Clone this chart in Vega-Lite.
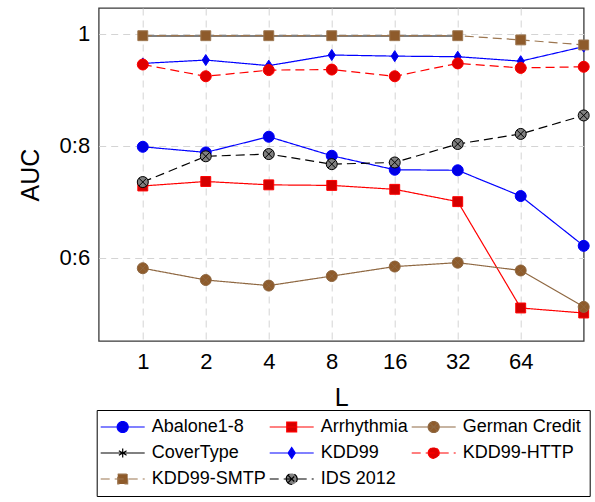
{
  "$schema": "https://vega.github.io/schema/vega-lite/v6.json",
  "width": 485,
  "height": 333,
  "autosize": {"type": "none"},
  "padding": {"left": 98.7, "top": 8, "right": 11.3, "bottom": 161},
  "background": "white",
  "config": {
    "font": "Liberation Sans",
    "view": {"stroke": "#3a3a3a", "strokeWidth": 1.3},
    "axis": {
      "labelFont": "Liberation Sans",
      "titleFont": "Liberation Sans",
      "labelColor": "black",
      "titleColor": "black",
      "titleFontWeight": "normal",
      "domain": false,
      "gridColor": "#d4d4d4",
      "gridDash": [7, 5],
      "gridWidth": 1,
      "ticks": false
    }
  },
  "data": {
    "values": [
      {"L": 1, "series": "Abalone1-8", "AUC": 0.798},
      {"L": 2, "series": "Abalone1-8", "AUC": 0.788},
      {"L": 4, "series": "Abalone1-8", "AUC": 0.816},
      {"L": 8, "series": "Abalone1-8", "AUC": 0.782},
      {"L": 16, "series": "Abalone1-8", "AUC": 0.757},
      {"L": 32, "series": "Abalone1-8", "AUC": 0.756},
      {"L": 64, "series": "Abalone1-8", "AUC": 0.710},
      {"L": 128, "series": "Abalone1-8", "AUC": 0.621},
      {"L": 1, "series": "Arrhythmia", "AUC": 0.728},
      {"L": 2, "series": "Arrhythmia", "AUC": 0.736},
      {"L": 4, "series": "Arrhythmia", "AUC": 0.730},
      {"L": 8, "series": "Arrhythmia", "AUC": 0.729},
      {"L": 16, "series": "Arrhythmia", "AUC": 0.722},
      {"L": 32, "series": "Arrhythmia", "AUC": 0.700},
      {"L": 64, "series": "Arrhythmia", "AUC": 0.510},
      {"L": 128, "series": "Arrhythmia", "AUC": 0.501},
      {"L": 1, "series": "German Credit", "AUC": 0.581},
      {"L": 2, "series": "German Credit", "AUC": 0.560},
      {"L": 4, "series": "German Credit", "AUC": 0.550},
      {"L": 8, "series": "German Credit", "AUC": 0.567},
      {"L": 16, "series": "German Credit", "AUC": 0.584},
      {"L": 32, "series": "German Credit", "AUC": 0.591},
      {"L": 64, "series": "German Credit", "AUC": 0.577},
      {"L": 128, "series": "German Credit", "AUC": 0.512},
      {"L": 1, "series": "CoverType", "AUC": 0.996},
      {"L": 2, "series": "CoverType", "AUC": 0.996},
      {"L": 4, "series": "CoverType", "AUC": 0.996},
      {"L": 8, "series": "CoverType", "AUC": 0.996},
      {"L": 16, "series": "CoverType", "AUC": 0.996},
      {"L": 32, "series": "CoverType", "AUC": 0.996},
      {"L": 1, "series": "KDD99", "AUC": 0.947},
      {"L": 2, "series": "KDD99", "AUC": 0.953},
      {"L": 4, "series": "KDD99", "AUC": 0.943},
      {"L": 8, "series": "KDD99", "AUC": 0.962},
      {"L": 16, "series": "KDD99", "AUC": 0.960},
      {"L": 32, "series": "KDD99", "AUC": 0.959},
      {"L": 64, "series": "KDD99", "AUC": 0.951},
      {"L": 128, "series": "KDD99", "AUC": 0.977},
      {"L": 1, "series": "KDD99-HTTP", "AUC": 0.945},
      {"L": 2, "series": "KDD99-HTTP", "AUC": 0.924},
      {"L": 4, "series": "KDD99-HTTP", "AUC": 0.935},
      {"L": 8, "series": "KDD99-HTTP", "AUC": 0.936},
      {"L": 16, "series": "KDD99-HTTP", "AUC": 0.924},
      {"L": 32, "series": "KDD99-HTTP", "AUC": 0.947},
      {"L": 64, "series": "KDD99-HTTP", "AUC": 0.939},
      {"L": 128, "series": "KDD99-HTTP", "AUC": 0.941},
      {"L": 1, "series": "KDD99-SMTP", "AUC": 0.9965},
      {"L": 2, "series": "KDD99-SMTP", "AUC": 0.9965},
      {"L": 4, "series": "KDD99-SMTP", "AUC": 0.9965},
      {"L": 8, "series": "KDD99-SMTP", "AUC": 0.9965},
      {"L": 16, "series": "KDD99-SMTP", "AUC": 0.9965},
      {"L": 32, "series": "KDD99-SMTP", "AUC": 0.9965},
      {"L": 64, "series": "KDD99-SMTP", "AUC": 0.989},
      {"L": 128, "series": "KDD99-SMTP", "AUC": 0.980},
      {"L": 1, "series": "IDS 2012", "AUC": 0.735},
      {"L": 2, "series": "IDS 2012", "AUC": 0.781},
      {"L": 4, "series": "IDS 2012", "AUC": 0.785},
      {"L": 8, "series": "IDS 2012", "AUC": 0.767},
      {"L": 16, "series": "IDS 2012", "AUC": 0.770},
      {"L": 32, "series": "IDS 2012", "AUC": 0.803},
      {"L": 64, "series": "IDS 2012", "AUC": 0.821},
      {"L": 128, "series": "IDS 2012", "AUC": 0.854}
    ]
  },
  "encoding": {
    "x": {
      "field": "L",
      "type": "quantitative",
      "scale": {"type": "log", "base": 2, "domain": [0.6156, 128], "nice": false},
      "axis": {
        "values": [1, 2, 4, 8, 16, 32, 64],
        "format": "d",
        "labelFontSize": 22,
        "labelPadding": 10,
        "title": "L",
        "titleFontSize": 25,
        "titlePadding": 13
      }
    },
    "y": {
      "field": "AUC",
      "type": "quantitative",
      "scale": {"domain": [0.451, 1.046], "nice": false, "zero": false},
      "axis": {
        "values": [0.6, 0.8, 1],
        "labelExpr": "replace(format(datum.value, '~g'), '.', ':')",
        "labelFontSize": 22,
        "labelPadding": 9,
        "title": "AUC",
        "titleFontSize": 25,
        "titlePadding": 16
      }
    }
  },
  "layer": [
    {
      "mark": {"type": "line", "strokeWidth": 1.2},
      "encoding": {
        "stroke": {
          "field": "series",
          "type": "nominal",
          "scale": {
            "domain": ["Abalone1-8", "Arrhythmia", "German Credit", "CoverType", "KDD99", "KDD99-HTTP", "KDD99-SMTP", "IDS 2012"],
            "range": ["#0000ff", "#ff0000", "#8f6842", "#000000", "#0000ff", "#ff0000", "#9c7650", "#000000"]
          },
          "legend": {
            "title": null,
            "orient": "none",
            "legendX": -2,
            "legendY": 402,
            "direction": "horizontal",
            "columns": 3,
            "strokeColor": "black",
            "fillColor": "white",
            "padding": 8,
            "labelFont": "Liberation Sans",
            "labelFontSize": 18,
            "labelColor": "black",
            "labelLimit": 250,
            "symbolSize": 121,
            "symbolOffset": 9,
            "symbolStrokeWidth": 1.2,
            "labelOffset": 20,
            "columnPadding": 0,
            "rowPadding": 8,
            "encoding": {
              "symbols": {
                "shape": {"value": {"expr": "['M-4,0H4M-1,0A1,1 0 1,0 1,0A1,1 0 1,0 -1,0Z', 'M-4,0H4M-0.9,-0.9H0.9V0.9H-0.9Z', 'M-4,0H4M-1,0A1,1 0 1,0 1,0A1,1 0 1,0 -1,0ZM-0.7,-0.7L0.7,0.7M-0.7,0.7L0.7,-0.7', 'M-4,0H4M0,-0.8V0.8M-0.7,-0.4L0.7,0.4M-0.7,0.4L0.7,-0.4', 'M-4,0H4M0,-1L0.65,0L0,1L-0.65,0Z', 'M-4,0H4M-1,0A1,1 0 1,0 1,0A1,1 0 1,0 -1,0Z', 'M-4,0H4M-0.9,-0.9H0.9V0.9H-0.9Z', 'M-4,0H4M-1,0A1,1 0 1,0 1,0A1,1 0 1,0 -1,0ZM-0.7,-0.7L0.7,0.7M-0.7,0.7L0.7,-0.7'][indexof(['Abalone1-8', 'Arrhythmia', 'German Credit', 'CoverType', 'KDD99', 'KDD99-HTTP', 'KDD99-SMTP', 'IDS 2012'], datum.value)]"}}
              }
            }
          }
        },
        "strokeDash": {
          "field": "series",
          "type": "nominal",
          "scale": {
            "domain": ["Abalone1-8", "Arrhythmia", "German Credit", "CoverType", "KDD99", "KDD99-HTTP", "KDD99-SMTP", "IDS 2012"],
            "range": [[1, 0], [1, 0], [1, 0], [1, 0], [1, 0], [9, 5], [9, 5], [9, 5]]
          }
        }
      }
    },
    {
      "mark": {"type": "point", "filled": true, "size": 121, "strokeWidth": 1, "opacity": 1},
      "encoding": {
        "stroke": {"field": "series", "type": "nominal"},
        "fill": {
          "field": "series",
          "type": "nominal",
          "scale": {
            "domain": ["Abalone1-8", "Arrhythmia", "German Credit", "CoverType", "KDD99", "KDD99-HTTP", "KDD99-SMTP", "IDS 2012"],
            "range": ["#0000e6", "#d40000", "#8e5b2b", "#000000", "#0000e6", "#e00000", "#8e5b2b", "#808080"]
          }
        },
        "shape": {
          "field": "series",
          "type": "nominal",
          "legend": null,
          "scale": {
            "range": [
              "M-1,0A1,1 0 1,0 1,0A1,1 0 1,0 -1,0Z",
              "M-0.9,-0.9H0.9V0.9H-0.9Z",
              "M0,-0.8V0.8M-0.7,-0.4L0.7,0.4M-0.7,0.4L0.7,-0.4",
              "M-1,0A1,1 0 1,0 1,0A1,1 0 1,0 -1,0ZM-0.7,-0.7L0.7,0.7M-0.7,0.7L0.7,-0.7",
              "M-1,0A1,1 0 1,0 1,0A1,1 0 1,0 -1,0ZM-0.7,-0.7L0.7,0.7M-0.7,0.7L0.7,-0.7",
              "M0,-1L0.65,0L0,1L-0.65,0Z",
              "M-1,0A1,1 0 1,0 1,0A1,1 0 1,0 -1,0Z",
              "M-0.9,-0.9H0.9V0.9H-0.9Z"
            ]
          }
        }
      }
    }
  ]
}
